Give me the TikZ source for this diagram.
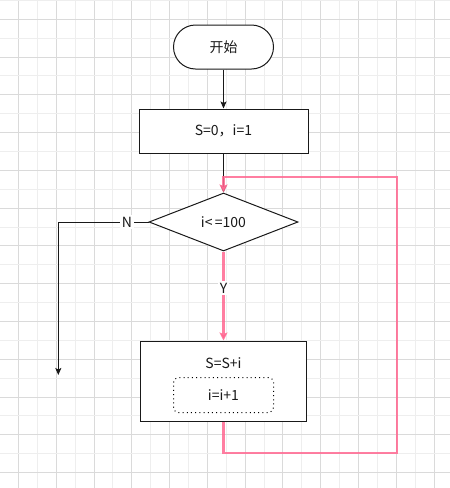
\documentclass[tikz,border=0pt]{standalone}
\usepackage{fontspec}
\setmainfont{Noto Sans CJK SC}
\usetikzlibrary{arrows.meta,shapes.geometric}
\definecolor{gridmajor}{RGB}{218,218,218}
\definecolor{gridminor}{RGB}{238,238,238}
\definecolor{loopink}{RGB}{255,104,145}
\tikzset{
  box/.style={draw=black!90, line width=1pt, fill=white, minimum width=169pt, minimum height=44pt, inner sep=0pt},
  term/.style={draw=black!90, line width=1pt, fill=white, minimum width=100pt, minimum height=44pt, rounded corners=22pt, inner sep=0pt},
  decision/.style={draw=black!90, line width=1pt, fill=white, diamond, aspect=2.57, minimum width=149pt, minimum height=58pt, inner sep=0pt},
  inner/.style={draw=black, line width=1pt, dash pattern=on 1pt off 3.2pt, rounded corners=5pt, minimum width=100pt, minimum height=35pt, inner sep=0pt},
  txt/.style={font=\fontsize{14}{16}\selectfont, text=black!90},
  flow/.style={draw=black!90, line width=1pt, -{Stealth[length=7pt,width=6pt,inset=1.5pt]}},
  pinkflow/.style={draw=loopink, line width=2.4pt, draw opacity=0.85, -{Stealth[length=8pt,width=8pt,inset=1.5pt]}},
  lbl/.style={fill=white, inner sep=2pt, font=\fontsize{14}{16}\selectfont, text=black!90},
}
\begin{document}
\begin{tikzpicture}[x=1pt,y=-1pt]
\useasboundingbox (0,0) rectangle (450,488);
\fill[white] (0,0) rectangle (450,488);
% grid
\foreach \k in {-1,...,22} {
  \pgfmathtruncatemacro{\ev}{mod(\k+2,2)}
  \ifnum\ev=0
    \draw[gridmajor, line width=1pt] ({18.5+18.89*\k},0) -- ({18.5+18.89*\k},488);
  \else
    \draw[gridminor, line width=1pt] ({18.5+18.89*\k},0) -- ({18.5+18.89*\k},488);
  \fi
}
\foreach \k in {-1,...,24} {
  \pgfmathtruncatemacro{\ev}{mod(\k+2,2)}
  \ifnum\ev=0
    \draw[gridmajor, line width=1pt] (0,{19.3+18.89*\k}) -- (450,{19.3+18.89*\k});
  \else
    \draw[gridminor, line width=1pt] (0,{19.3+18.89*\k}) -- (450,{19.3+18.89*\k});
  \fi
}
% nodes
\node[term, txt] (start) at (223.5,47) {开始};
\node[box, txt] (init) at (223.5,131) {S=0，i=1};
\node[decision, txt] (cond) at (223.5,222) {i<\,=100};
\node[box, minimum width=166pt, minimum height=80pt] (body) at (223.5,381) {};
\node[txt] (sum) at (223.5,363) {S=S+i};
\node[inner, txt] (inc) at (223.5,395) {i=i+1};
% coordinates
\coordinate (nc) at (58.3,222);
\coordinate (nend) at (58.3,375);
\coordinate (lb) at (223.5,453);
\coordinate (rb) at (396.7,453);
\coordinate (rt) at (396.7,177);
% connectors
\draw[flow] (start) -- (init);
\draw[flow] (init) -- (cond);
\draw[flow] (cond.west) -- node[pos=0.24, lbl] (nlab) {N} (nc) -- (nend);
\draw[pinkflow] (body.south) -- (lb) -- (rb) -- (rt) -| (cond.north);
\draw[pinkflow] (cond.south) -- node[pos=0.41, lbl] (ylab) {Y} (body.north);
\end{tikzpicture}
\end{document}
